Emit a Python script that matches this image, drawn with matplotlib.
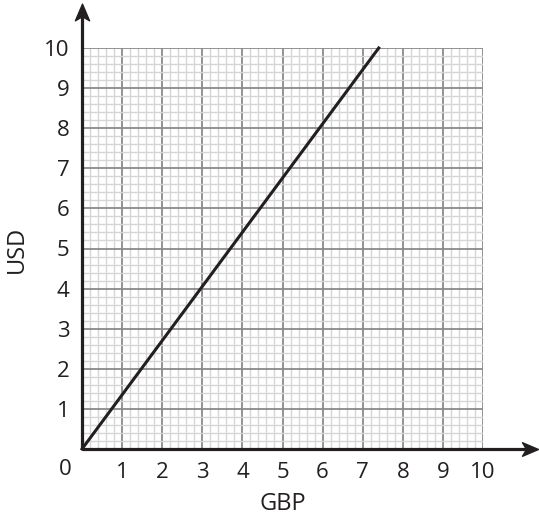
import matplotlib
matplotlib.use("Agg")
import matplotlib.pyplot as plt
from matplotlib.path import Path
import numpy as np

# conversion line: GBP -> USD
gbp = [0, 7.4]
usd = [0, 10]

x_ticks = list(range(1, 11))
y_ticks = list(range(1, 11))
x_label = "GBP"
y_label = "USD"

INK = "#231f20"

plt.rcParams["font.family"] = ["Open Sans", "DejaVu Sans"]

fig = plt.figure(figsize=(5.39, 5.19), dpi=100)
ax = fig.add_axes([82 / 539, 70 / 519, 401 / 539, 401 / 519])

ax.set_xlim(0, 10)
ax.set_ylim(0, 10)

# graph paper grid
ax.set_xticks(np.arange(0, 10.01, 0.2), minor=True)
ax.set_yticks(np.arange(0, 10.01, 0.2), minor=True)
ax.set_xticks(x_ticks)
ax.set_yticks(y_ticks)
ax.set_xticklabels([str(t) for t in x_ticks])
ax.set_yticklabels([str(t) for t in y_ticks])
ax.grid(which="minor", color="#d6d6d6", linewidth=1.0)
ax.grid(which="major", color="#8a8a8a", linewidth=1.3)
ax.set_axisbelow(True)

ax.tick_params(which="both", length=0)
ax.tick_params(axis="x", pad=9, labelsize=16, colors=INK)
ax.tick_params(axis="y", pad=9, labelsize=16, colors=INK)

for side in ["top", "right"]:
    ax.spines[side].set_visible(False)
for side in ["left", "bottom"]:
    ax.spines[side].set_visible(False)

ax.plot(gbp, usd, color=INK, linewidth=2.2, clip_on=False, zorder=4)

# axes drawn as arrows running past the grid
ax.plot([0, 1.115], [0, 0], transform=ax.transAxes, color=INK,
        linewidth=2.3, clip_on=False, zorder=5, solid_capstyle="butt")
ax.plot([0, 0], [0, 1.09], transform=ax.transAxes, color=INK,
        linewidth=2.3, clip_on=False, zorder=5, solid_capstyle="butt")

head_x = Path([(1, 0), (-1, 0.85), (-0.5, 0), (-1, -0.85), (1, 0)],
              [Path.MOVETO, Path.LINETO, Path.LINETO, Path.LINETO, Path.CLOSEPOLY])
head_y = Path([(0, 1), (0.85, -1), (0, -0.5), (-0.85, -1), (0, 1)],
              [Path.MOVETO, Path.LINETO, Path.LINETO, Path.LINETO, Path.CLOSEPOLY])
ax.plot([1.117], [0], transform=ax.transAxes, marker=head_x, markersize=11.5,
        color=INK, clip_on=False, zorder=6, linestyle="none")
ax.plot([0], [1.09], transform=ax.transAxes, marker=head_y, markersize=12,
        color=INK, clip_on=False, zorder=6, linestyle="none")

ax.text(-0.042, -0.05, "0", transform=ax.transAxes, fontsize=16,
        ha="center", va="center", color=INK)

fig.text(283 / 539, 1 - 504 / 519, x_label, fontsize=17, ha="center",
         va="center", color=INK)
fig.text(17 / 539, 1 - 249 / 519, y_label, fontsize=17, ha="center",
         va="center", rotation=90, color=INK)

fig.savefig("out.png", dpi=100)
